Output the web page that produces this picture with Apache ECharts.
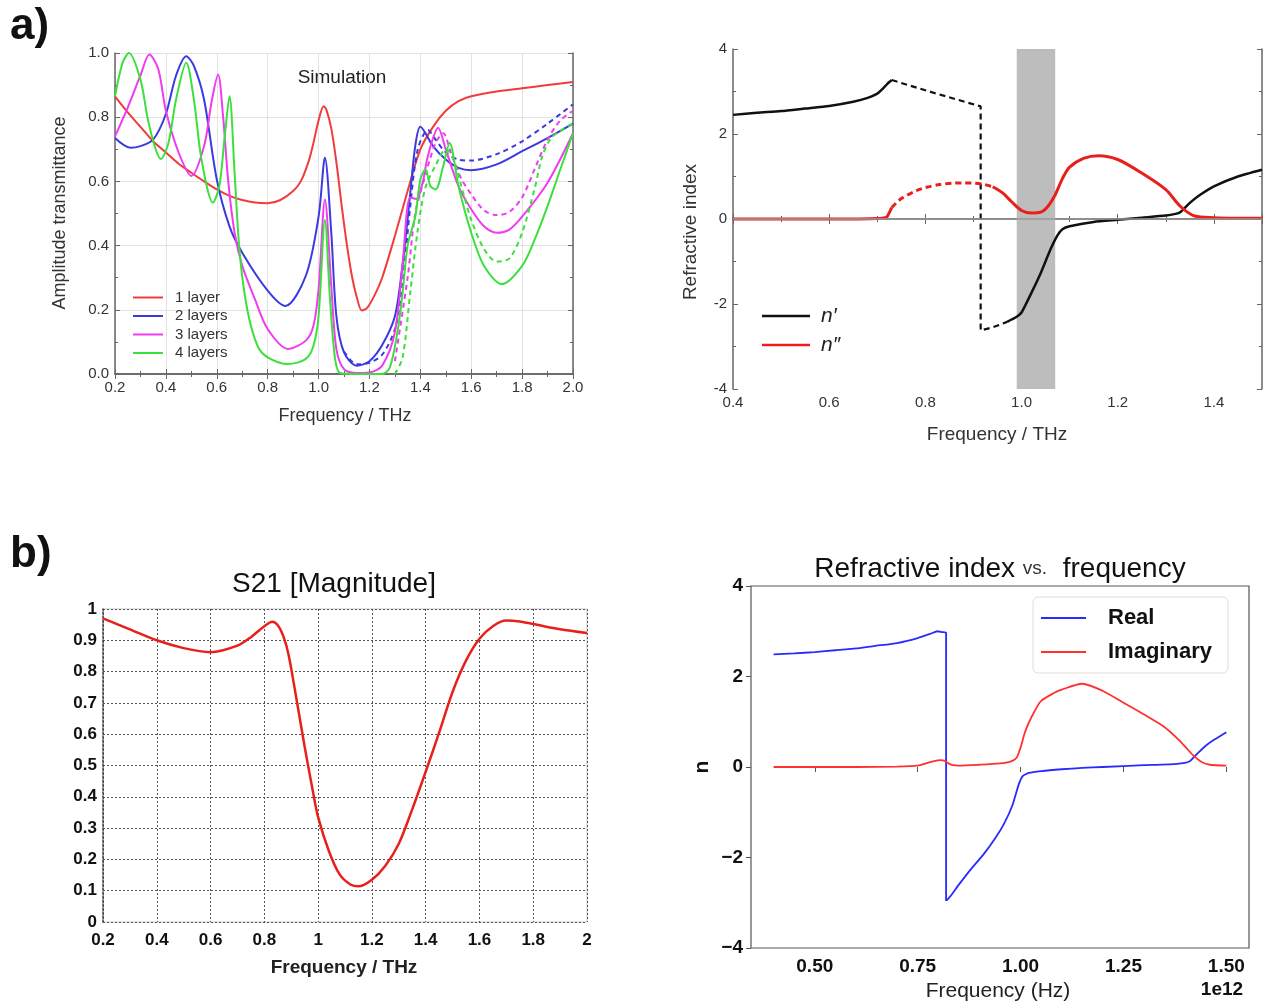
<!DOCTYPE html>
<html>
<head>
<meta charset="utf-8">
<title>Transmittance and refractive index</title>
<script src="https://cdn.jsdelivr.net/npm/echarts@6.0.0/dist/echarts.min.js"></script>
<style>
  html, body { margin: 0; padding: 0; background: #fff; }
  #chart { width: 1271px; height: 1006px; }
</style>
</head>
<body>
<div id="chart"></div>
<script>
// a) left: amplitude transmittance, simulation
var layer1F = [0.2,0.25,0.3,0.35,0.4,0.45,0.5,0.55,0.6,0.65,0.7,0.75,0.8,0.85,0.9,0.93,0.96,0.98,1.0,1.02,1.03,1.05,1.07,1.09,1.11,1.13,1.15,1.17,1.19,1.22,1.25,1.3,1.35,1.4,1.45,1.5,1.55,1.6,1.7,1.8,1.9,2.0];
var layer1T = [0.865,0.815,0.77,0.725,0.69,0.655,0.627,0.6,0.575,0.555,0.542,0.534,0.532,0.542,0.57,0.6,0.66,0.72,0.79,0.834,0.825,0.765,0.66,0.53,0.41,0.31,0.24,0.198,0.205,0.245,0.3,0.43,0.57,0.7,0.77,0.82,0.85,0.865,0.88,0.89,0.9,0.91];

var layer2F = [0.2,0.26,0.3,0.35,0.4,0.44,0.48,0.51,0.55,0.6,0.65,0.7,0.8,0.87,0.95,1.0,1.025,1.05,1.07,1.1,1.15,1.2,1.25,1.3,1.33,1.36,1.38,1.4,1.45,1.5,1.55,1.6,1.7,1.8,1.9,2.0];
var layer2T = [0.735,0.705,0.71,0.73,0.81,0.93,0.99,0.96,0.855,0.606,0.46,0.378,0.26,0.212,0.306,0.49,0.674,0.44,0.18,0.067,0.026,0.04,0.09,0.18,0.34,0.56,0.71,0.77,0.71,0.668,0.642,0.635,0.653,0.694,0.735,0.78];
var layer2DashF = [1.1,1.15,1.2,1.25,1.3,1.33,1.36,1.39,1.43,1.46,1.5,1.55,1.6,1.7,1.8,1.9,2.0];
var layer2DashT = [0.07,0.03,0.035,0.06,0.14,0.28,0.52,0.7,0.76,0.73,0.69,0.668,0.665,0.685,0.725,0.78,0.84];

var layer3F = [0.2,0.25,0.3,0.335,0.37,0.4,0.45,0.5,0.55,0.58,0.605,0.625,0.645,0.67,0.7,0.75,0.8,0.88,0.95,0.98,1.0,1.025,1.05,1.07,1.1,1.15,1.2,1.25,1.3,1.33,1.36,1.385,1.41,1.43,1.47,1.5,1.55,1.6,1.65,1.7,1.75,1.8,1.9,2.0];
var layer3T = [0.74,0.83,0.93,0.995,0.95,0.82,0.69,0.617,0.71,0.85,0.933,0.8,0.6,0.44,0.337,0.233,0.14,0.078,0.104,0.15,0.264,0.544,0.275,0.078,0.015,0.003,0.005,0.026,0.13,0.34,0.55,0.545,0.6,0.68,0.767,0.7,0.585,0.513,0.46,0.44,0.45,0.49,0.596,0.75];
var layer3DashF = [1.3,1.35,1.38,1.42,1.46,1.49,1.52,1.56,1.6,1.65,1.7,1.75,1.8,1.85,1.9,1.95,2.0];
var layer3DashT = [0.04,0.3,0.5,0.62,0.72,0.75,0.69,0.61,0.56,0.51,0.495,0.505,0.55,0.64,0.73,0.79,0.82];

var layer4F = [0.2,0.23,0.255,0.3,0.33,0.36,0.38,0.41,0.44,0.48,0.51,0.54,0.585,0.61,0.63,0.65,0.67,0.69,0.72,0.76,0.8,0.88,0.95,0.98,1.0,1.025,1.045,1.065,1.085,1.15,1.25,1.28,1.31,1.33,1.35,1.38,1.4,1.42,1.44,1.46,1.49,1.515,1.55,1.6,1.65,1.72,1.8,1.85,1.9,1.95,2.0];
var layer4T = [0.865,0.97,1.0,0.917,0.79,0.7,0.67,0.72,0.855,0.97,0.855,0.668,0.534,0.585,0.73,0.865,0.627,0.378,0.2,0.088,0.052,0.031,0.047,0.088,0.18,0.48,0.233,0.047,0.003,0.0,0.0,0.02,0.13,0.25,0.4,0.49,0.606,0.637,0.585,0.575,0.648,0.72,0.585,0.44,0.337,0.28,0.337,0.42,0.523,0.637,0.75];
var layer4DashF = [1.3,1.33,1.36,1.39,1.42,1.46,1.5,1.53,1.57,1.6,1.65,1.7,1.75,1.8,1.85,1.88,1.92,2.0];
var layer4DashT = [0.0,0.05,0.25,0.45,0.58,0.65,0.7,0.67,0.56,0.48,0.39,0.35,0.36,0.44,0.58,0.68,0.74,0.78];

// a) right: refractive index n' and n''
var nReF1 = [0.4,0.45,0.5,0.55,0.6,0.65,0.68,0.7,0.71,0.72,0.73];
var nReV1 = [2.45,2.5,2.54,2.6,2.66,2.76,2.85,2.95,3.05,3.17,3.27];
var nReDashF = [0.73,0.82,0.915,0.915,0.94,0.97];
var nReDashV = [3.27,2.96,2.65,-2.62,-2.55,-2.42];
var nReF2 = [0.97,0.99,1.0,1.02,1.04,1.06,1.075,1.085,1.1,1.15,1.2,1.25,1.3,1.32,1.33,1.35,1.37,1.4,1.45,1.5];
var nReV2 = [-2.42,-2.3,-2.2,-1.75,-1.27,-0.72,-0.38,-0.24,-0.17,-0.07,-0.02,0.03,0.08,0.12,0.16,0.38,0.56,0.77,1.0,1.16];
var nImF1 = [0.4,0.5,0.6,0.65,0.7,0.71,0.72,0.725,0.73];
var nImV1 = [0.0,0.0,0.0,0.0,0.01,0.02,0.05,0.15,0.27];
var nImDashF = [0.73,0.75,0.78,0.8,0.83,0.86,0.88,0.9,0.92,0.94];
var nImDashV = [0.27,0.48,0.66,0.74,0.81,0.845,0.85,0.845,0.82,0.76];
var nImF2 = [0.94,0.96,0.98,1.0,1.02,1.04,1.055,1.07,1.085,1.1,1.13,1.16,1.2,1.25,1.3,1.33,1.36,1.4,1.45,1.5];
var nImV2 = [0.76,0.62,0.4,0.2,0.14,0.16,0.3,0.57,0.95,1.22,1.43,1.49,1.4,1.08,0.69,0.3,0.07,0.03,0.02,0.02];
var bandFrom = 0.99, bandTo = 1.07;

// b) left: S21 magnitude
var s21F = [0.2,0.3,0.4,0.5,0.6,0.7,0.75,0.8,0.83,0.85,0.87,0.89,0.92,0.95,0.98,1.0,1.04,1.08,1.12,1.15,1.2,1.25,1.3,1.35,1.4,1.45,1.5,1.55,1.6,1.65,1.7,1.75,1.8,1.9,2.0];
var s21M = [0.97,0.935,0.9,0.875,0.862,0.883,0.91,0.945,0.959,0.948,0.915,0.855,0.71,0.56,0.42,0.335,0.227,0.152,0.12,0.114,0.135,0.18,0.25,0.36,0.48,0.605,0.735,0.835,0.905,0.945,0.963,0.96,0.952,0.935,0.923];

// b) right: retrieved refractive index (frequency in 1e12 Hz)
var realF = [0.4,0.45,0.5,0.55,0.6,0.65,0.7,0.75,0.78,0.798,0.81,0.819,0.819,0.83,0.85,0.88,0.91,0.94,0.96,0.98,0.995,1.005,1.02,1.05,1.1,1.15,1.2,1.3,1.38,1.41,1.43,1.45,1.47,1.5];
var realV = [2.49,2.51,2.54,2.58,2.62,2.68,2.74,2.85,2.94,3.0,2.98,2.97,-2.96,-2.85,-2.6,-2.25,-1.93,-1.55,-1.25,-0.85,-0.4,-0.2,-0.13,-0.09,-0.05,-0.02,0.0,0.04,0.07,0.12,0.3,0.47,0.6,0.77];
var imagF = [0.4,0.5,0.6,0.7,0.75,0.77,0.79,0.805,0.815,0.825,0.835,0.85,0.9,0.95,0.975,0.99,1.0,1.01,1.02,1.035,1.05,1.08,1.1,1.15,1.2,1.25,1.3,1.35,1.38,1.4,1.42,1.44,1.46,1.5];
var imagV = [0.0,0.0,0.0,0.01,0.03,0.08,0.13,0.15,0.14,0.08,0.04,0.03,0.05,0.08,0.12,0.2,0.43,0.75,0.98,1.25,1.46,1.63,1.71,1.84,1.68,1.42,1.16,0.88,0.64,0.45,0.25,0.11,0.05,0.03];
var bTicks = [0.5,0.75,1.0,1.25,1.5];

function pairs(xs, ys) {
  var out = [];
  for (var i = 0; i < xs.length; i++) out.push([xs[i], ys[i]]);
  return out;
}

var sans = '"Liberation Sans", Arial, sans-serif';
var cRed = '#f03c3c', cBlue = '#3a3ae0', cMag = '#f03cf0', cGreen = '#3ce03c';
// axis index of the main x/y axes of each panel (a-left, a-right, b-left, b-right)
var axisOf = [0, 2, 4, 5];

function line(name, xs, ys, color, panel, opts) {
  opts = opts || {};
  return {
    name: name, type: 'line', xAxisIndex: axisOf[panel], yAxisIndex: axisOf[panel],
    data: pairs(xs, ys), symbol: 'none', smooth: opts.smooth === undefined ? 0.3 : opts.smooth,
    itemStyle: { color: color },
    lineStyle: { color: color, width: opts.width || 2, type: opts.type || 'solid' },
    clip: true, z: opts.z || 3
  };
}

// inner-tick frame axes for the a) panels
function frameAxis(min, max, interval, grid, pos) {
  return {
    type: 'value', gridIndex: grid, position: pos, min: min, max: max, interval: interval,
    axisLine: { show: true, lineStyle: { color: '#666', width: 1.5 } },
    axisTick: { show: true, inside: true, length: 5, lineStyle: { color: '#666' } },
    minorTick: { show: true, splitNumber: 2, length: 3, lineStyle: { color: '#666' } },
    axisLabel: { show: false }, splitLine: { show: false }
  };
}

var aLabel = { color: '#333', fontFamily: sans, fontSize: 15, margin: 6 };
var bLabel = { color: '#111', fontFamily: sans, fontSize: 17, fontWeight: 'bold' };

var chart = echarts.init(document.getElementById('chart'));
chart.setOption({
  animation: false,
  backgroundColor: '#fff',
  grid: [
    { left: 115, top: 53, width: 458, height: 321 },
    { left: 733, top: 49, width: 529, height: 340 },
    { left: 103, top: 609, width: 484, height: 313, show: true, borderColor: '#c8c8c8', borderWidth: 1 },
    { left: 751, top: 586, width: 498, height: 362, show: true, borderColor: '#555', borderWidth: 1.2 }
  ],
  xAxis: [
    Object.assign(frameAxis(0.2, 2.0, 0.2, 0, 'bottom'), {
      axisLabel: Object.assign({ formatter: function (v) { return v.toFixed(1); } }, aLabel),
      splitLine: { show: true, lineStyle: { color: '#e2e2e2' } }
    }),
    frameAxis(0.2, 2.0, 0.2, 0, 'top'),
    Object.assign(frameAxis(0.4, 1.5, 0.2, 1, 'bottom'), {
      axisLabel: Object.assign({ formatter: function (v) { return v.toFixed(1); }, showMaxLabel: false }, aLabel)
    }),
    frameAxis(0.4, 1.5, 0.2, 1, 'top'),
    {
      type: 'value', gridIndex: 2, min: 0.2, max: 2, interval: 0.2,
      axisLine: { show: false }, axisTick: { show: false },
      axisLabel: Object.assign({ margin: 10 }, bLabel),
      splitLine: { show: true, lineStyle: { color: '#555', type: [2, 2], width: 1 } }
    },
    {
      type: 'value', gridIndex: 3, min: 0.345, max: 1.555,
      axisLine: { show: false },
      axisTick: { show: true, length: 5, customValues: bTicks, lineStyle: { color: '#555' } },
      axisLabel: { customValues: bTicks, formatter: function (v) { return v.toFixed(2); },
        color: '#111', fontFamily: sans, fontSize: 19, fontWeight: 'bold', margin: 9 },
      splitLine: { show: false }
    }
  ],
  yAxis: [
    Object.assign(frameAxis(0, 1, 0.2, 0, 'left'), {
      axisLabel: Object.assign({ formatter: function (v) { return v.toFixed(1); } }, aLabel),
      splitLine: { show: true, lineStyle: { color: '#e2e2e2' } }
    }),
    frameAxis(0, 1, 0.2, 0, 'right'),
    Object.assign(frameAxis(-4, 4, 2, 1, 'left'), { axisLabel: aLabel }),
    frameAxis(-4, 4, 2, 1, 'right'),
    {
      type: 'value', gridIndex: 2, min: 0, max: 1, interval: 0.1,
      axisLine: { show: true, lineStyle: { color: '#444', type: [2, 2], width: 1.5 } },
      axisTick: { show: false },
      axisLabel: Object.assign({ margin: 6 }, bLabel),
      splitLine: { show: true, lineStyle: { color: '#555', type: [2, 2], width: 1 } }
    },
    {
      type: 'value', gridIndex: 3, min: -4, max: 4, interval: 2,
      axisLine: { show: false },
      axisTick: { show: true, length: 5, lineStyle: { color: '#555' } },
      axisLabel: { formatter: function (v) { return v < 0 ? '\u2212' + (-v) : String(v); },
        color: '#111', fontFamily: sans, fontSize: 19, fontWeight: 'bold', margin: 8 },
      splitLine: { show: false }
    }
  ],
  legend: [
    {
      data: ['1 layer', '2 layers', '3 layers', '4 layers'], selectedMode: false, padding: 0,
      orient: 'vertical', left: 133, top: 289, icon: 'rect', itemWidth: 30, itemHeight: 2, itemGap: 1.5,
      textStyle: { fontFamily: sans, fontSize: 15, lineHeight: 17, color: '#333', padding: [0, 0, 0, 7] }
    },
    {
      data: ['n\u2032', 'n\u2033'], selectedMode: false, padding: 0,
      orient: 'vertical', left: 762, top: 304, icon: 'rect', itemWidth: 48, itemHeight: 2.5, itemGap: 5,
      textStyle: { fontFamily: sans, fontSize: 21, lineHeight: 24, fontStyle: 'italic', color: '#222', padding: [0, 0, 0, 6] }
    },
    {
      data: ['Real', 'Imaginary'], selectedMode: false,
      orient: 'vertical', left: 1033, top: 597, icon: 'rect', itemWidth: 45, itemHeight: 2, itemGap: 8,
      padding: [8, 16, 8, 8], backgroundColor: '#fff', borderColor: '#ddd', borderWidth: 1, borderRadius: 5,
      textStyle: { fontFamily: sans, fontSize: 22, lineHeight: 26, fontWeight: 'bold', color: '#111', padding: [0, 0, 0, 17] }
    }
  ],
  graphic: [
    { type: 'text', left: 10, top: 5, style: { text: 'a)', font: 'bold 44px ' + sans, fill: '#111' } },
    { type: 'text', left: 10, top: 533, style: { text: 'b)', font: 'bold 44px ' + sans, fill: '#111' } },
    { type: 'text', x: 342, y: 78, style: { text: 'Simulation', font: '19px ' + sans, fill: '#222', align: 'center', verticalAlign: 'middle' } },
    { type: 'text', x: 60, y: 213, rotation: Math.PI / 2, style: { text: 'Amplitude transmittance', font: '18px ' + sans, fill: '#333', align: 'center', verticalAlign: 'middle' } },
    { type: 'text', x: 345, y: 416, style: { text: 'Frequency / THz', font: '18px ' + sans, fill: '#333', align: 'center', verticalAlign: 'middle' } },
    { type: 'text', x: 691, y: 232, rotation: Math.PI / 2, style: { text: 'Refractive index', font: '19px ' + sans, fill: '#333', align: 'center', verticalAlign: 'middle' } },
    { type: 'text', x: 997, y: 435, style: { text: 'Frequency / THz', font: '19px ' + sans, fill: '#333', align: 'center', verticalAlign: 'middle' } },
    { type: 'text', x: 334, y: 584, style: { text: 'S21 [Magnitude]', font: '28px ' + sans, fill: '#111', align: 'center', verticalAlign: 'middle' } },
    { type: 'text', x: 344, y: 968, style: { text: 'Frequency / THz', font: 'bold 19px ' + sans, fill: '#222', align: 'center', verticalAlign: 'middle' } },
    { type: 'text', x: 1000, y: 569, style: {
      text: 'Refractive index {v|vs.}  frequency', font: '28px ' + sans, fill: '#111', align: 'center', verticalAlign: 'middle',
      rich: { v: { fontSize: 19, fill: '#333', fontFamily: sans } } } },
    { type: 'text', x: 702, y: 767, rotation: Math.PI / 2, style: { text: 'n', font: 'bold 21px ' + sans, fill: '#111', align: 'center', verticalAlign: 'middle' } },
    { type: 'text', x: 998, y: 991, style: { text: 'Frequency (Hz)', font: '21px ' + sans, fill: '#222', align: 'center', verticalAlign: 'middle' } },
    { type: 'text', x: 1222, y: 990, style: { text: '1e12', font: 'bold 19px ' + sans, fill: '#111', align: 'center', verticalAlign: 'middle' } }
  ],
  series: [
    line('1 layer', layer1F, layer1T, cRed, 0),
    line('2 layers', layer2F, layer2T, cBlue, 0),
    line('2 layers (dashed)', layer2DashF, layer2DashT, cBlue, 0, { type: [5, 4] }),
    line('3 layers', layer3F, layer3T, cMag, 0),
    line('3 layers (dashed)', layer3DashF, layer3DashT, cMag, 0, { type: [5, 4] }),
    line('4 layers', layer4F, layer4T, cGreen, 0),
    line('4 layers (dashed)', layer4DashF, layer4DashT, cGreen, 0, { type: [5, 4] }),

    {
      name: 'band', type: 'line', xAxisIndex: 2, yAxisIndex: 2, data: [], z: 1,
      markArea: { silent: true, itemStyle: { color: '#bdbdbd' }, data: [[{ xAxis: bandFrom }, { xAxis: bandTo }]] }
    },
    {
      name: 'zero', type: 'line', xAxisIndex: 2, yAxisIndex: 2, data: [], z: 2,
      markLine: { silent: true, symbol: 'none', label: { show: false }, lineStyle: { color: '#9a9a9a', width: 1.5, type: 'solid' }, data: [{ yAxis: 0 }] }
    },
    line('n\u2032', nReF1, nReV1, '#111', 1, { width: 2.5, smooth: 0.2 }),
    line('n\u2032 (dashed)', nReDashF, nReDashV, '#111', 1, { width: 2.2, type: [6, 4], smooth: 0 }),
    line('n\u2032 (2)', nReF2, nReV2, '#111', 1, { width: 2.5, smooth: 0.2 }),
    line('n\u2033', nImF1, nImV1, '#e8201c', 1, { width: 3, smooth: 0.2 }),
    line('n\u2033 (dashed)', nImDashF, nImDashV, '#e8201c', 1, { width: 3, type: [6, 4], smooth: 0.3 }),
    line('n\u2033 (2)', nImF2, nImV2, '#e8201c', 1, { width: 3, smooth: 0.3 }),

    line('S21', s21F, s21M, '#e8201c', 2, { width: 2.5, smooth: 0.3 }),

    line('Real', realF, realV, '#2a2aff', 3, { width: 1.8, smooth: 0.15 }),
    line('Imaginary', imagF, imagV, '#ff3030', 3, { width: 1.8, smooth: 0.25 })
  ]
});
</script>
</body>
</html>
